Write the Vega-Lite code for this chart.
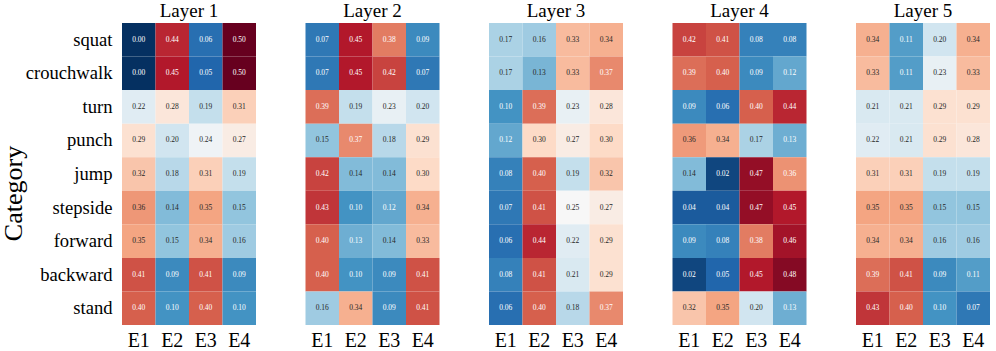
{
"$schema":"https://vega.github.io/schema/vega-lite/v6.json",
"padding":{"top":2,"left":0,"right":0,"bottom":0},
"background":"white",
"data":{"values":[
{"layer":"Layer 1","category":"squat","metric":"E1","value":0.00},{"layer":"Layer 1","category":"squat","metric":"E2","value":0.44},{"layer":"Layer 1","category":"squat","metric":"E3","value":0.06},{"layer":"Layer 1","category":"squat","metric":"E4","value":0.50},
{"layer":"Layer 1","category":"crouchwalk","metric":"E1","value":0.00},{"layer":"Layer 1","category":"crouchwalk","metric":"E2","value":0.45},{"layer":"Layer 1","category":"crouchwalk","metric":"E3","value":0.05},{"layer":"Layer 1","category":"crouchwalk","metric":"E4","value":0.50},
{"layer":"Layer 1","category":"turn","metric":"E1","value":0.22},{"layer":"Layer 1","category":"turn","metric":"E2","value":0.28},{"layer":"Layer 1","category":"turn","metric":"E3","value":0.19},{"layer":"Layer 1","category":"turn","metric":"E4","value":0.31},
{"layer":"Layer 1","category":"punch","metric":"E1","value":0.29},{"layer":"Layer 1","category":"punch","metric":"E2","value":0.20},{"layer":"Layer 1","category":"punch","metric":"E3","value":0.24},{"layer":"Layer 1","category":"punch","metric":"E4","value":0.27},
{"layer":"Layer 1","category":"jump","metric":"E1","value":0.32},{"layer":"Layer 1","category":"jump","metric":"E2","value":0.18},{"layer":"Layer 1","category":"jump","metric":"E3","value":0.31},{"layer":"Layer 1","category":"jump","metric":"E4","value":0.19},
{"layer":"Layer 1","category":"stepside","metric":"E1","value":0.36},{"layer":"Layer 1","category":"stepside","metric":"E2","value":0.14},{"layer":"Layer 1","category":"stepside","metric":"E3","value":0.35},{"layer":"Layer 1","category":"stepside","metric":"E4","value":0.15},
{"layer":"Layer 1","category":"forward","metric":"E1","value":0.35},{"layer":"Layer 1","category":"forward","metric":"E2","value":0.15},{"layer":"Layer 1","category":"forward","metric":"E3","value":0.34},{"layer":"Layer 1","category":"forward","metric":"E4","value":0.16},
{"layer":"Layer 1","category":"backward","metric":"E1","value":0.41},{"layer":"Layer 1","category":"backward","metric":"E2","value":0.09},{"layer":"Layer 1","category":"backward","metric":"E3","value":0.41},{"layer":"Layer 1","category":"backward","metric":"E4","value":0.09},
{"layer":"Layer 1","category":"stand","metric":"E1","value":0.40},{"layer":"Layer 1","category":"stand","metric":"E2","value":0.10},{"layer":"Layer 1","category":"stand","metric":"E3","value":0.40},{"layer":"Layer 1","category":"stand","metric":"E4","value":0.10},
{"layer":"Layer 2","category":"squat","metric":"E1","value":0.07},{"layer":"Layer 2","category":"squat","metric":"E2","value":0.45},{"layer":"Layer 2","category":"squat","metric":"E3","value":0.38},{"layer":"Layer 2","category":"squat","metric":"E4","value":0.09},
{"layer":"Layer 2","category":"crouchwalk","metric":"E1","value":0.07},{"layer":"Layer 2","category":"crouchwalk","metric":"E2","value":0.45},{"layer":"Layer 2","category":"crouchwalk","metric":"E3","value":0.42},{"layer":"Layer 2","category":"crouchwalk","metric":"E4","value":0.07},
{"layer":"Layer 2","category":"turn","metric":"E1","value":0.39},{"layer":"Layer 2","category":"turn","metric":"E2","value":0.19},{"layer":"Layer 2","category":"turn","metric":"E3","value":0.23},{"layer":"Layer 2","category":"turn","metric":"E4","value":0.20},
{"layer":"Layer 2","category":"punch","metric":"E1","value":0.15},{"layer":"Layer 2","category":"punch","metric":"E2","value":0.37},{"layer":"Layer 2","category":"punch","metric":"E3","value":0.18},{"layer":"Layer 2","category":"punch","metric":"E4","value":0.29},
{"layer":"Layer 2","category":"jump","metric":"E1","value":0.42},{"layer":"Layer 2","category":"jump","metric":"E2","value":0.14},{"layer":"Layer 2","category":"jump","metric":"E3","value":0.14},{"layer":"Layer 2","category":"jump","metric":"E4","value":0.30},
{"layer":"Layer 2","category":"stepside","metric":"E1","value":0.43},{"layer":"Layer 2","category":"stepside","metric":"E2","value":0.10},{"layer":"Layer 2","category":"stepside","metric":"E3","value":0.12},{"layer":"Layer 2","category":"stepside","metric":"E4","value":0.34},
{"layer":"Layer 2","category":"forward","metric":"E1","value":0.40},{"layer":"Layer 2","category":"forward","metric":"E2","value":0.127},{"layer":"Layer 2","category":"forward","metric":"E3","value":0.14},{"layer":"Layer 2","category":"forward","metric":"E4","value":0.33},
{"layer":"Layer 2","category":"backward","metric":"E1","value":0.40},{"layer":"Layer 2","category":"backward","metric":"E2","value":0.10},{"layer":"Layer 2","category":"backward","metric":"E3","value":0.09},{"layer":"Layer 2","category":"backward","metric":"E4","value":0.41},
{"layer":"Layer 2","category":"stand","metric":"E1","value":0.16},{"layer":"Layer 2","category":"stand","metric":"E2","value":0.34},{"layer":"Layer 2","category":"stand","metric":"E3","value":0.09},{"layer":"Layer 2","category":"stand","metric":"E4","value":0.41},
{"layer":"Layer 3","category":"squat","metric":"E1","value":0.17},{"layer":"Layer 3","category":"squat","metric":"E2","value":0.16},{"layer":"Layer 3","category":"squat","metric":"E3","value":0.33},{"layer":"Layer 3","category":"squat","metric":"E4","value":0.34},
{"layer":"Layer 3","category":"crouchwalk","metric":"E1","value":0.17},{"layer":"Layer 3","category":"crouchwalk","metric":"E2","value":0.134},{"layer":"Layer 3","category":"crouchwalk","metric":"E3","value":0.33},{"layer":"Layer 3","category":"crouchwalk","metric":"E4","value":0.37},
{"layer":"Layer 3","category":"turn","metric":"E1","value":0.10},{"layer":"Layer 3","category":"turn","metric":"E2","value":0.39},{"layer":"Layer 3","category":"turn","metric":"E3","value":0.23},{"layer":"Layer 3","category":"turn","metric":"E4","value":0.28},
{"layer":"Layer 3","category":"punch","metric":"E1","value":0.12},{"layer":"Layer 3","category":"punch","metric":"E2","value":0.30},{"layer":"Layer 3","category":"punch","metric":"E3","value":0.27},{"layer":"Layer 3","category":"punch","metric":"E4","value":0.30},
{"layer":"Layer 3","category":"jump","metric":"E1","value":0.08},{"layer":"Layer 3","category":"jump","metric":"E2","value":0.40},{"layer":"Layer 3","category":"jump","metric":"E3","value":0.19},{"layer":"Layer 3","category":"jump","metric":"E4","value":0.32},
{"layer":"Layer 3","category":"stepside","metric":"E1","value":0.07},{"layer":"Layer 3","category":"stepside","metric":"E2","value":0.41},{"layer":"Layer 3","category":"stepside","metric":"E3","value":0.25},{"layer":"Layer 3","category":"stepside","metric":"E4","value":0.27},
{"layer":"Layer 3","category":"forward","metric":"E1","value":0.06},{"layer":"Layer 3","category":"forward","metric":"E2","value":0.44},{"layer":"Layer 3","category":"forward","metric":"E3","value":0.22},{"layer":"Layer 3","category":"forward","metric":"E4","value":0.29},
{"layer":"Layer 3","category":"backward","metric":"E1","value":0.08},{"layer":"Layer 3","category":"backward","metric":"E2","value":0.41},{"layer":"Layer 3","category":"backward","metric":"E3","value":0.21},{"layer":"Layer 3","category":"backward","metric":"E4","value":0.29},
{"layer":"Layer 3","category":"stand","metric":"E1","value":0.06},{"layer":"Layer 3","category":"stand","metric":"E2","value":0.40},{"layer":"Layer 3","category":"stand","metric":"E3","value":0.18},{"layer":"Layer 3","category":"stand","metric":"E4","value":0.37},
{"layer":"Layer 4","category":"squat","metric":"E1","value":0.42},{"layer":"Layer 4","category":"squat","metric":"E2","value":0.41},{"layer":"Layer 4","category":"squat","metric":"E3","value":0.08},{"layer":"Layer 4","category":"squat","metric":"E4","value":0.08},
{"layer":"Layer 4","category":"crouchwalk","metric":"E1","value":0.39},{"layer":"Layer 4","category":"crouchwalk","metric":"E2","value":0.40},{"layer":"Layer 4","category":"crouchwalk","metric":"E3","value":0.09},{"layer":"Layer 4","category":"crouchwalk","metric":"E4","value":0.12},
{"layer":"Layer 4","category":"turn","metric":"E1","value":0.09},{"layer":"Layer 4","category":"turn","metric":"E2","value":0.06},{"layer":"Layer 4","category":"turn","metric":"E3","value":0.40},{"layer":"Layer 4","category":"turn","metric":"E4","value":0.44},
{"layer":"Layer 4","category":"punch","metric":"E1","value":0.358},{"layer":"Layer 4","category":"punch","metric":"E2","value":0.34},{"layer":"Layer 4","category":"punch","metric":"E3","value":0.17},{"layer":"Layer 4","category":"punch","metric":"E4","value":0.127},
{"layer":"Layer 4","category":"jump","metric":"E1","value":0.14},{"layer":"Layer 4","category":"jump","metric":"E2","value":0.02},{"layer":"Layer 4","category":"jump","metric":"E3","value":0.47},{"layer":"Layer 4","category":"jump","metric":"E4","value":0.364},
{"layer":"Layer 4","category":"stepside","metric":"E1","value":0.04},{"layer":"Layer 4","category":"stepside","metric":"E2","value":0.04},{"layer":"Layer 4","category":"stepside","metric":"E3","value":0.47},{"layer":"Layer 4","category":"stepside","metric":"E4","value":0.45},
{"layer":"Layer 4","category":"forward","metric":"E1","value":0.09},{"layer":"Layer 4","category":"forward","metric":"E2","value":0.08},{"layer":"Layer 4","category":"forward","metric":"E3","value":0.38},{"layer":"Layer 4","category":"forward","metric":"E4","value":0.46},
{"layer":"Layer 4","category":"backward","metric":"E1","value":0.02},{"layer":"Layer 4","category":"backward","metric":"E2","value":0.05},{"layer":"Layer 4","category":"backward","metric":"E3","value":0.45},{"layer":"Layer 4","category":"backward","metric":"E4","value":0.48},
{"layer":"Layer 4","category":"stand","metric":"E1","value":0.32},{"layer":"Layer 4","category":"stand","metric":"E2","value":0.35},{"layer":"Layer 4","category":"stand","metric":"E3","value":0.20},{"layer":"Layer 4","category":"stand","metric":"E4","value":0.127},
{"layer":"Layer 5","category":"squat","metric":"E1","value":0.34},{"layer":"Layer 5","category":"squat","metric":"E2","value":0.11},{"layer":"Layer 5","category":"squat","metric":"E3","value":0.20},{"layer":"Layer 5","category":"squat","metric":"E4","value":0.34},
{"layer":"Layer 5","category":"crouchwalk","metric":"E1","value":0.33},{"layer":"Layer 5","category":"crouchwalk","metric":"E2","value":0.11},{"layer":"Layer 5","category":"crouchwalk","metric":"E3","value":0.23},{"layer":"Layer 5","category":"crouchwalk","metric":"E4","value":0.33},
{"layer":"Layer 5","category":"turn","metric":"E1","value":0.21},{"layer":"Layer 5","category":"turn","metric":"E2","value":0.21},{"layer":"Layer 5","category":"turn","metric":"E3","value":0.29},{"layer":"Layer 5","category":"turn","metric":"E4","value":0.29},
{"layer":"Layer 5","category":"punch","metric":"E1","value":0.22},{"layer":"Layer 5","category":"punch","metric":"E2","value":0.21},{"layer":"Layer 5","category":"punch","metric":"E3","value":0.29},{"layer":"Layer 5","category":"punch","metric":"E4","value":0.28},
{"layer":"Layer 5","category":"jump","metric":"E1","value":0.31},{"layer":"Layer 5","category":"jump","metric":"E2","value":0.31},{"layer":"Layer 5","category":"jump","metric":"E3","value":0.19},{"layer":"Layer 5","category":"jump","metric":"E4","value":0.19},
{"layer":"Layer 5","category":"stepside","metric":"E1","value":0.35},{"layer":"Layer 5","category":"stepside","metric":"E2","value":0.35},{"layer":"Layer 5","category":"stepside","metric":"E3","value":0.15},{"layer":"Layer 5","category":"stepside","metric":"E4","value":0.15},
{"layer":"Layer 5","category":"forward","metric":"E1","value":0.34},{"layer":"Layer 5","category":"forward","metric":"E2","value":0.34},{"layer":"Layer 5","category":"forward","metric":"E3","value":0.16},{"layer":"Layer 5","category":"forward","metric":"E4","value":0.16},
{"layer":"Layer 5","category":"backward","metric":"E1","value":0.39},{"layer":"Layer 5","category":"backward","metric":"E2","value":0.41},{"layer":"Layer 5","category":"backward","metric":"E3","value":0.09},{"layer":"Layer 5","category":"backward","metric":"E4","value":0.11},
{"layer":"Layer 5","category":"stand","metric":"E1","value":0.43},{"layer":"Layer 5","category":"stand","metric":"E2","value":0.40},{"layer":"Layer 5","category":"stand","metric":"E3","value":0.10},{"layer":"Layer 5","category":"stand","metric":"E4","value":0.07}
]},
"facet":{"column":{"field":"layer","type":"nominal","title":null,
  "header":{"labelFont":"Liberation Serif","labelFontSize":19,"labelColor":"black","labelPadding":2}}},
"spacing":49.5,
"spec":{
  "width":134,"height":302,
  "encoding":{
    "x":{"field":"metric","type":"ordinal","sort":["E1","E2","E3","E4"],"title":null,
      "scale":{"paddingInner":0,"paddingOuter":0},
      "axis":{"labelAngle":0,"labelFont":"Liberation Serif","labelFontSize":20,"labelColor":"black","labelPadding":5,"ticks":false,"domain":false}},
    "y":{"field":"category","type":"ordinal","sort":["squat","crouchwalk","turn","punch","jump","stepside","forward","backward","stand"],"title":"Category",
      "scale":{"paddingInner":0,"paddingOuter":0},
      "axis":{"labelFont":"Liberation Serif","labelFontSize":18.6,"labelColor":"black","labelPadding":10,"ticks":false,"domain":false,
        "titleFont":"Liberation Serif","titleFontSize":26,"titleFontWeight":"normal","titleColor":"black","titlePadding":-1,"titleY":170}}
  },
  "layer":[
    {"mark":{"type":"rect"},
     "encoding":{"color":{"field":"value","type":"quantitative",
       "scale":{"domain":[0,0.05,0.1,0.15,0.2,0.25,0.3,0.35,0.4,0.45,0.5],
                "range":["#053061","#2166ac","#4393c3","#92c5de","#d1e5f0","#f7f7f7","#fddbc7","#f4a582","#d6604d","#b2182b","#67001f"],
                "interpolate":"rgb"},"legend":null}}},
    {"mark":{"type":"text","font":"Liberation Serif","fontSize":7.5},
     "encoding":{"text":{"field":"value","type":"quantitative","format":".2f"},
       "color":{"condition":{"test":"datum.value < 0.13 || datum.value > 0.362","value":"white"},"value":"#262626"}}}
  ]
},
"config":{"view":{"stroke":null},"axis":{"grid":false}}
}
